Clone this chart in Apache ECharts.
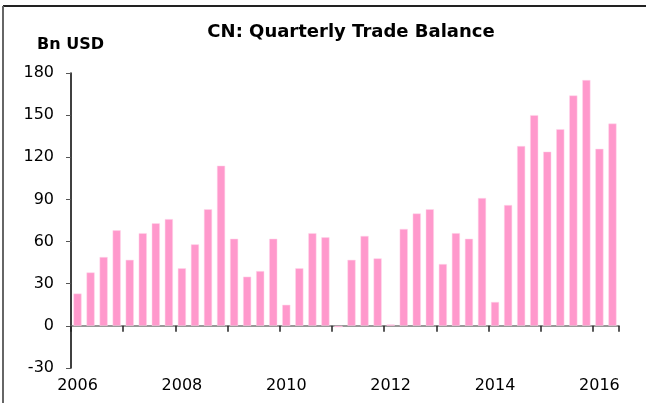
<!DOCTYPE html>
<html>
<head>
<meta charset="utf-8">
<script src="https://cdn.jsdelivr.net/npm/echarts@6/dist/echarts.min.js"></script>
<style>
  html, body { margin: 0; padding: 0; background: #fff; }
  #chart { width: 646px; height: 403px; }
</style>
</head>
<body>
<div id="chart"></div>
<script>
// quarters 2006Q1 .. 2016Q2
const years = [2006, 2007, 2008, 2009, 2010, 2011, 2012, 2013, 2014, 2015, 2016];
const quarters = [];
years.forEach((y) => {
  for (let q = 1; q <= 4; q++) {
    if (y === 2016 && q > 2) break;
    quarters.push(y + "Q" + q);
  }
});

// trade balance, Bn USD
const balance = [
  23, 38, 49, 68,
  47, 66, 73, 76,
  41, 58, 83, 114,
  62, 35, 39, 62,
  15, 41, 66, 63,
  -1, 47, 64, 48,
  1, 69, 80, 83,
  44, 66, 62, 91,
  17, 86, 128, 150,
  124, 140, 164, 175,
  126, 144,
];

const yTicks = { min: -30, max: 180, step: 30 };

const FONT = "DejaVu Sans, Liberation Sans, sans-serif";

const myChart = echarts.init(document.getElementById("chart"));

const option = {
  animation: false,
  textStyle: { fontFamily: FONT },
  title: {
    text: "CN: Quarterly Trade Balance",
    left: 346,
    top: 18,
    textAlign: "center",
    textStyle: { fontSize: 18, fontWeight: "bold", color: "#000", fontFamily: FONT },
  },
  graphic: [
    // frame (top + left only)
    { type: "line", shape: { x1: 3, y1: 6, x2: 646, y2: 6 }, style: { stroke: "#222", lineWidth: 2 } },
    { type: "line", shape: { x1: 3, y1: 6, x2: 3, y2: 403 }, style: { stroke: "#666", lineWidth: 2 } },
    {
      type: "text",
      left: 37,
      top: 37,
      style: { text: "Bn USD", font: "bold 16px " + FONT, fill: "#000" },
    },
  ],
  grid: {
    left: 71,
    right: 27,
    top: 73,
    bottom: 35,
    containLabel: false,
    outerBoundsMode: "none",
  },
  xAxis: [
    {
      // zero line with year ticks
      type: "category",
      data: quarters,
      position: "bottom",
      axisLine: { show: true, onZero: true, lineStyle: { color: "#777", width: 1.5 } },
      axisTick: {
        show: true,
        inside: false,
        alignWithLabel: false,
        interval: 3,
        length: 6,
        lineStyle: { color: "#222", width: 1.5 },
      },
      axisLabel: { show: false },
      splitLine: { show: false },
    },
    {
      // year labels along the bottom
      type: "category",
      data: quarters,
      position: "bottom",
      axisLine: { show: false, onZero: false },
      axisTick: { show: false },
      axisLabel: {
        interval: 7,
        margin: 10,
        fontSize: 16,
        color: "#000",
        formatter: (v) => v.slice(0, 4),
      },
      splitLine: { show: false },
    },
  ],
  yAxis: {
    type: "value",
    min: yTicks.min,
    max: yTicks.max,
    interval: yTicks.step,
    axisLine: { show: true, lineStyle: { color: "#000", width: 1.5 } },
    axisTick: { show: true, length: 5, lineStyle: { color: "#555" } },
    axisLabel: { margin: 17, fontSize: 16, color: "#000" },
    splitLine: { show: false },
  },
  series: [
    {
      name: "Trade Balance",
      type: "bar",
      xAxisIndex: 0,
      data: balance,
      barCategoryGap: "38%",
      itemStyle: {
        color: "#FF99CC",
        borderColor: "#FFD6EA",
        borderWidth: 0.5,
      },
    },
  ],
};

myChart.setOption(option);
</script>
</body>
</html>
